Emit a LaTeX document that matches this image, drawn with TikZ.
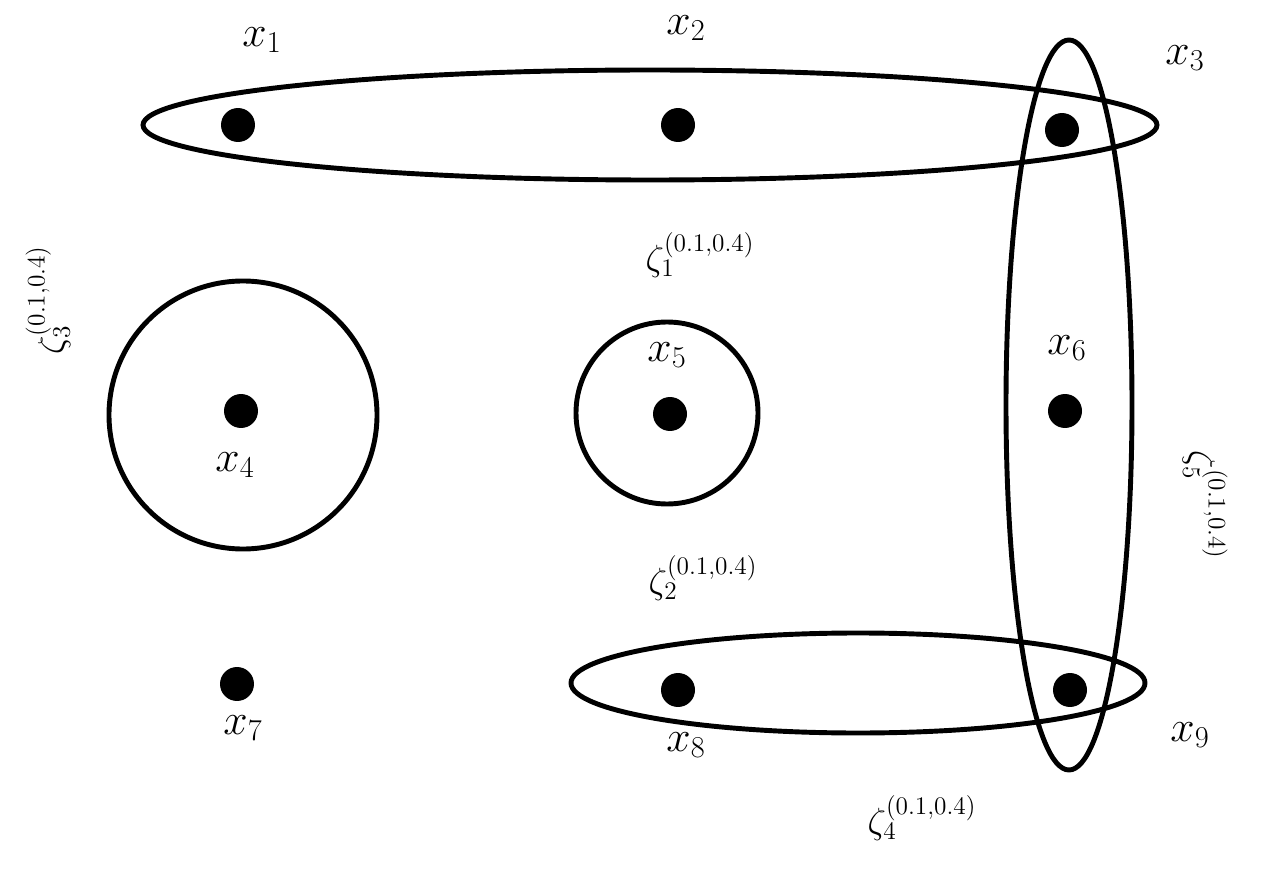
\documentclass[tikz,border=0pt]{standalone}
\begin{document}
\begin{tikzpicture}[x=0.02cm,y=-0.02cm,
  hedge/.style={line width=2.8pt},
  pt/.style={circle,fill=black,inner sep=0pt,minimum size=0.68cm},
  lab/.style={font=\fontsize{26}{30}\selectfont},
  zl/.style={font=\fontsize{22}{26}\selectfont}]
\useasboundingbox (0,0) rectangle (1265,885);
\node[pt] (p1) at (238,125) {};
\node[pt] (p2) at (678,125) {};
\node[pt] (p3) at (1062,130) {};
\node[pt] (p4) at (241,411) {};
\node[pt] (p5) at (670,414) {};
\node[pt] (p6) at (1065,411) {};
\node[pt] (p7) at (237,684) {};
\node[pt] (p8) at (678,690) {};
\node[pt] (p9) at (1070,690) {};
\draw[hedge] (650,125) ellipse [x radius=507, y radius=55];
\draw[hedge] (1069,405) ellipse [x radius=63, y radius=365];
\draw[hedge] (243,415) circle [radius=134];
\draw[hedge] (667,413) circle [radius=91];
\draw[hedge] (858,683) ellipse [x radius=287, y radius=50];
\node[lab] (l1) at (262,40) {$x_1$};
\node[lab] (l2) at (686,28) {$x_2$};
\node[lab] (l3) at (1185,58) {$x_3$};
\node[lab] (l4) at (235,465) {$x_4$};
\node[lab] (l5) at (667,355) {$x_5$};
\node[lab] (l6) at (1067,348) {$x_6$};
\node[lab] (l7) at (243,728) {$x_7$};
\node[lab] (l8) at (686,745) {$x_8$};
\node[lab] (l9) at (1190,735) {$x_9$};
\node[zl] (z1) at (700,255) {$\zeta_1^{(0.1,0.4)}$};
\node[zl] (z2) at (703,578) {$\zeta_2^{(0.1,0.4)}$};
\node[zl] (z4) at (922,818) {$\zeta_4^{(0.1,0.4)}$};
\node[zl,rotate=90] (z3) at (48,300) {$\zeta_3^{(0.1,0.4)}$};
\node[zl,rotate=-90] (z5) at (1205,505) {$\zeta_5^{(0.1,0.4)}$};
\end{tikzpicture}
\end{document}
